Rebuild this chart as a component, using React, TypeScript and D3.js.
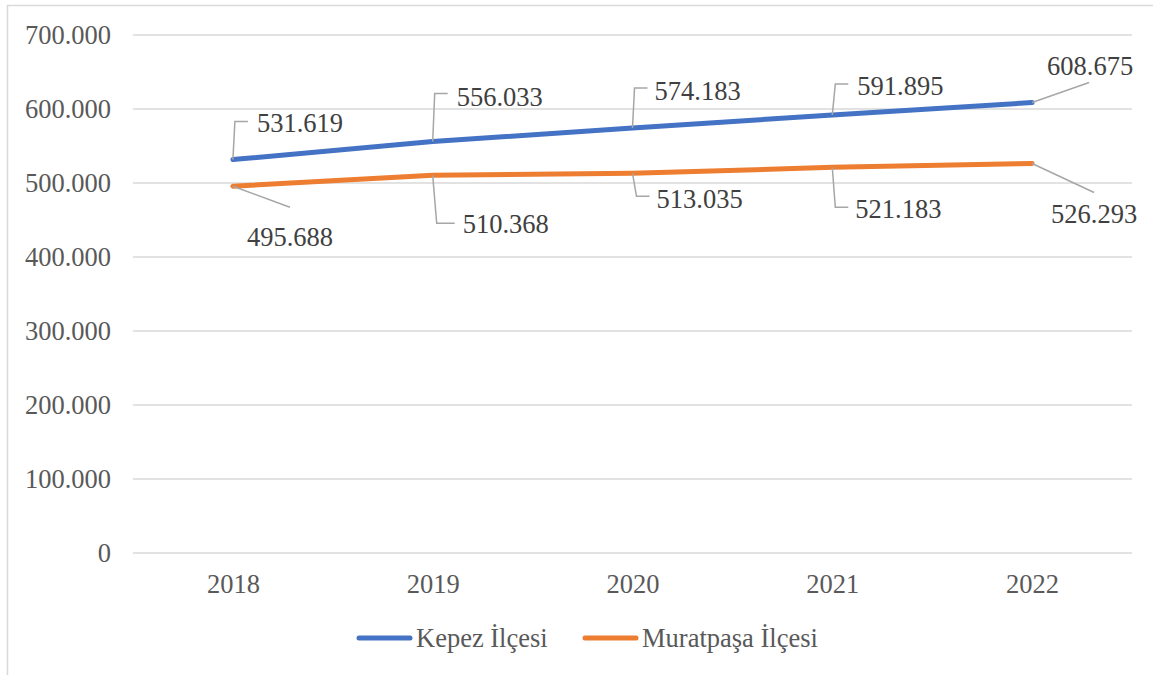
import React, { useEffect, useRef } from 'react';
import { select, scalePoint, scaleLinear, axisLeft, axisBottom, line, format } from 'd3';

const years = ['2018', '2019', '2020', '2021', '2022'];
const kepez = [531619, 556033, 574183, 591895, 608675];
const muratpasa = [495688, 510368, 513035, 521183, 526293];
const seriesNames = ['Kepez İlçesi', 'Muratpaşa İlçesi'];
const yTicks = [0, 100000, 200000, 300000, 400000, 500000, 600000, 700000];

// label placement relative to the point: text start, baseline, leader bend / end
const kepezLabels = [
  { dx: 24, dy: -28, bend: [2, -38], end: [15, -38] },
  { dx: 24, dy: -36, bend: [2, -48], end: [15, -48] },
  { dx: 22, dy: -28, bend: [2, -40], end: [15, -40] },
  { dx: 25, dy: -20, bend: [3, -31], end: [16, -31] },
  { dx: 15, dy: -28, bend: null, end: [57, -20] }
];
const muratLabels = [
  { dx: 14, dy: 60, bend: null, end: [57, 21] },
  { dx: 30, dy: 58, bend: [4, 48], end: [22, 48] },
  { dx: 24, dy: 35, bend: [4, 23], end: [17, 23] },
  { dx: 23, dy: 51, bend: [3, 40], end: [16, 40] },
  { dx: 19, dy: 59, bend: null, end: [62, 29] }
];

const W = 1153;
const H = 675;
const FONT = "'Liberation Serif', 'Times New Roman', Tinos, serif";
const fmt = (v: number) => format(',')(v).replace(/,/g, '.');

const drawChart = (node: SVGSVGElement) => {
  const svg = select(node);
  svg.selectAll('*').remove();

  svg.append('rect')
    .attr('x', 7.5).attr('y', 5.5)
    .attr('width', W).attr('height', H)
    .attr('fill', '#fff')
    .attr('stroke', '#d9d9d9')
    .attr('stroke-width', 1.5);

  const x = scalePoint<string>().domain(years).range([133, 1132]).padding(0.5);
  const y = scaleLinear().domain([0, 700000]).range([553, 35]);

  // gridlines
  svg.append('g')
    .selectAll('line')
    .data(yTicks)
    .enter()
    .append('line')
    .attr('x1', 133).attr('x2', 1132)
    .attr('y1', d => y(d)).attr('y2', d => y(d))
    .attr('stroke', '#d9d9d9')
    .attr('stroke-width', 1.5);

  const yAxis = svg.append('g')
    .attr('transform', 'translate(133,0)')
    .call(axisLeft(y).tickValues(yTicks).tickSize(0).tickPadding(22).tickFormat(d => fmt(+d)));
  yAxis.select('.domain').remove();
  yAxis.attr('font-family', null).attr('font-size', null);
  yAxis.selectAll('text').attr('fill', '#595959');

  const xAxis = svg.append('g')
    .attr('transform', 'translate(0,553)')
    .call(axisBottom(x).tickSize(0).tickPadding(21));
  xAxis.select('.domain').remove();
  xAxis.attr('font-family', null).attr('font-size', null);
  xAxis.selectAll('text').attr('fill', '#595959');

  const series = [
    { name: seriesNames[0], values: kepez, color: '#4472C4', labels: kepezLabels },
    { name: seriesNames[1], values: muratpasa, color: '#ED7D31', labels: muratLabels }
  ];

  const path = line<number>()
    .x((d, i) => x(years[i]) as number)
    .y(d => y(d));

  series.forEach(s => {
    svg.append('path')
      .datum(s.values)
      .attr('d', path)
      .attr('fill', 'none')
      .attr('stroke', s.color)
      .attr('stroke-width', 5)
      .attr('stroke-linecap', 'round')
      .attr('stroke-linejoin', 'round');
  });

  series.forEach(s => {
    s.values.forEach((v, i) => {
      const px = x(years[i]) as number;
      const py = y(v);
      const lb = s.labels[i];
      const pts: number[][] = [[px, py]];
      if (lb.bend) pts.push([px + lb.bend[0], py + lb.bend[1]]);
      pts.push([px + lb.end[0], py + lb.end[1]]);
      svg.append('polyline')
        .attr('points', pts.map(p => p.join(',')).join(' '))
        .attr('fill', 'none')
        .attr('stroke', '#a6a6a6')
        .attr('stroke-width', 1.5);
      svg.append('text')
        .attr('x', px + lb.dx)
        .attr('y', py + lb.dy)
        .attr('fill', '#404040')
        .text(fmt(v));
    });
  });

  // legend
  const legendX = [357, 583];
  series.forEach((s, i) => {
    const g = svg.append('g').attr('transform', `translate(${legendX[i]},638)`);
    g.append('line')
      .attr('x1', 2).attr('x2', 53)
      .attr('stroke', s.color)
      .attr('stroke-width', 5)
      .attr('stroke-linecap', 'round');
    g.append('text')
      .attr('x', 59).attr('y', 9)
      .attr('fill', '#595959')
      .text(s.name);
  });
};

export default function App() {
  const ref = useRef<SVGSVGElement>(null);
  useEffect(() => {
    if (ref.current) drawChart(ref.current);
  }, []);
  return (
    <svg
      ref={ref}
      width={W}
      height={H}
      style={{
        position: 'absolute',
        left: 0,
        top: 0,
        background: '#fff',
        fontFamily: FONT,
        fontSize: 26.5
      }}
    />
  );
}
